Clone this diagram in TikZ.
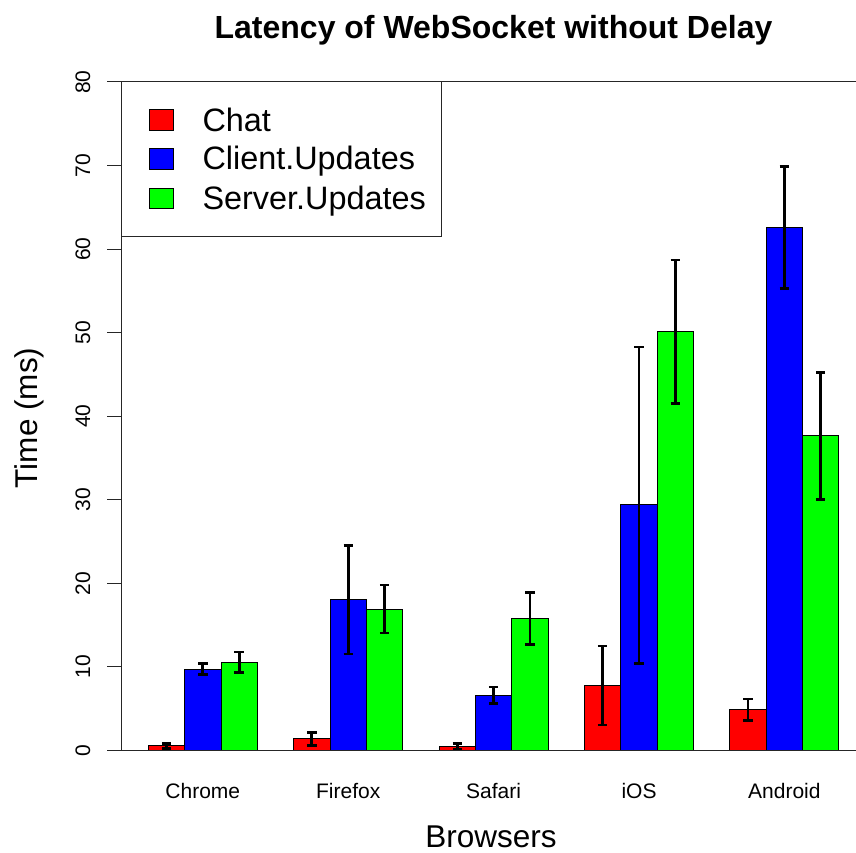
\documentclass[tikz,border=0pt]{standalone}
\usepackage{fontspec}
\setmainfont{Liberation Sans}
\definecolor{rchat}{RGB}{255,0,0}
\definecolor{rclient}{RGB}{0,0,255}
\definecolor{rserver}{RGB}{0,255,0}
\tikzset{
  barbox/.style={draw=black, line width=1pt},
  errbar/.style={draw=black, line width=2.8pt, line cap=butt},
  axisline/.style={draw=black!85, line width=1pt},
  ticklab/.style={rotate=90, anchor=base, inner sep=0pt, font=\fontsize{21}{25}\selectfont},
  catlab/.style={anchor=base, inner sep=0pt, font=\fontsize{21}{25}\selectfont},
  axlab/.style={anchor=base, inner sep=0pt, text depth=0pt, font=\fontsize{31.5}{36}\selectfont},
  leglab/.style={anchor=base west, inner sep=0pt, font=\fontsize{32.4}{38}\selectfont},
}
\begin{document}
\begin{tikzpicture}[x=1pt,y=1pt]
\useasboundingbox (0,0) rectangle (856,852);
\fill[white] (0,0) rectangle (856,852);
\def\yb{101.5}
\def\ys{8.356}
% bars: group / bar index / value / low / high / colour
\foreach \g/\i/\v/\lo/\hi/\c in {
  0/0/0.54/0.2/0.8/rchat, 0/1/9.75/9.1/10.43/rclient, 0/2/10.5/9.3/11.8/rserver,
  1/0/1.38/0.6/2.2/rchat, 1/1/18.1/11.55/24.5/rclient, 1/2/16.9/14.05/19.8/rserver,
  2/0/0.45/0.1/0.8/rchat, 2/1/6.62/5.58/7.6/rclient, 2/2/15.75/12.72/18.93/rserver,
  3/0/7.8/3.05/12.5/rchat, 3/1/29.4/10.4/48.3/rclient, 3/2/50.1/41.55/58.7/rserver,
  4/0/4.88/3.6/6.16/rchat, 4/1/62.57/55.3/69.9/rclient, 4/2/37.67/30.06/45.26/rserver}{
  \pgfmathsetmacro\xa{148.3+145.4*\g+36.35*\i}
  \pgfmathsetmacro\xb{\xa+36.35}
  \pgfmathsetmacro\yt{\yb+\ys*\v}
  \filldraw[barbox, fill=\c] (\xa,\yb) rectangle (\xb,\yt);
}
\foreach \g/\i/\v/\lo/\hi/\c in {
  0/0/0.54/0.2/0.8/rchat, 0/1/9.75/9.1/10.43/rclient, 0/2/10.5/9.3/11.8/rserver,
  1/0/1.38/0.6/2.2/rchat, 1/1/18.1/11.55/24.5/rclient, 1/2/16.9/14.05/19.8/rserver,
  2/0/0.45/0.1/0.8/rchat, 2/1/6.62/5.58/7.6/rclient, 2/2/15.75/12.72/18.93/rserver,
  3/0/7.8/3.05/12.5/rchat, 3/1/29.4/10.4/48.3/rclient, 3/2/50.1/41.55/58.7/rserver,
  4/0/4.88/3.6/6.16/rchat, 4/1/62.57/55.3/69.9/rclient, 4/2/37.67/30.06/45.26/rserver}{
  \pgfmathsetmacro\xc{148.3+145.4*\g+36.35*\i+18.175}
  \pgfmathsetmacro\ylo{\yb+\ys*\lo}
  \pgfmathsetmacro\yhi{\yb+\ys*\hi}
  \draw[errbar] (\xc,\ylo) -- (\xc,\yhi);
  \draw[errbar] (\xc-4.7,\ylo) -- (\xc+4.7,\ylo);
  \draw[errbar] (\xc-4.7,\yhi) -- (\xc+4.7,\yhi);
}
% axes
\draw[axisline] (121,\yb) -- (121,770);
\draw[axisline] (107,\yb) -- (856,\yb);
\draw[axisline] (107,770) -- (856,770);
\foreach \t in {10,20,...,70}{
  \pgfmathsetmacro\ty{\yb+\ys*\t}
  \draw[axisline] (107,\ty) -- (121,\ty);
}
\foreach \t in {0,10,...,80}{
  \pgfmathsetmacro\ty{\yb+\ys*\t}
  \node[ticklab] (tl\t) at (90,\ty) {\t};
}
% category labels
\foreach \n/\g in {Chrome/0, Firefox/1, Safari/2, iOS/3, Android/4}{
  \pgfmathsetmacro\xc{148.3+145.4*\g+54.5}
  \node[catlab] (cat\g) at (\xc,54) {\n};
}
% axis titles
\node[axlab] (xlab) at (491,5) {Browsers};
\node[axlab, rotate=90] (ylab) at (37,434) {Time (ms)};
\node[anchor=base, inner sep=0pt, font=\fontsize{32}{38}\selectfont\bfseries] (title) at (493.5,813.7) {Latency of WebSocket without Delay};
% legend
\filldraw[fill=white, draw=black!85, line width=1pt] (121,615.3) rectangle (441.7,770);
\filldraw[barbox, fill=rchat] (149.3,721.3) rectangle (173.3,742);
\filldraw[barbox, fill=rclient] (149.3,682.7) rectangle (173.3,703);
\filldraw[barbox, fill=rserver] (149.3,643.7) rectangle (173.3,663.7);
\node[leglab] (l1) at (202.3,720.3) {Chat};
\node[leglab] (l2) at (202.3,682) {Client.Updates};
\node[leglab] (l3) at (202.3,642.7) {Server.Updates};
\end{tikzpicture}
\end{document}
